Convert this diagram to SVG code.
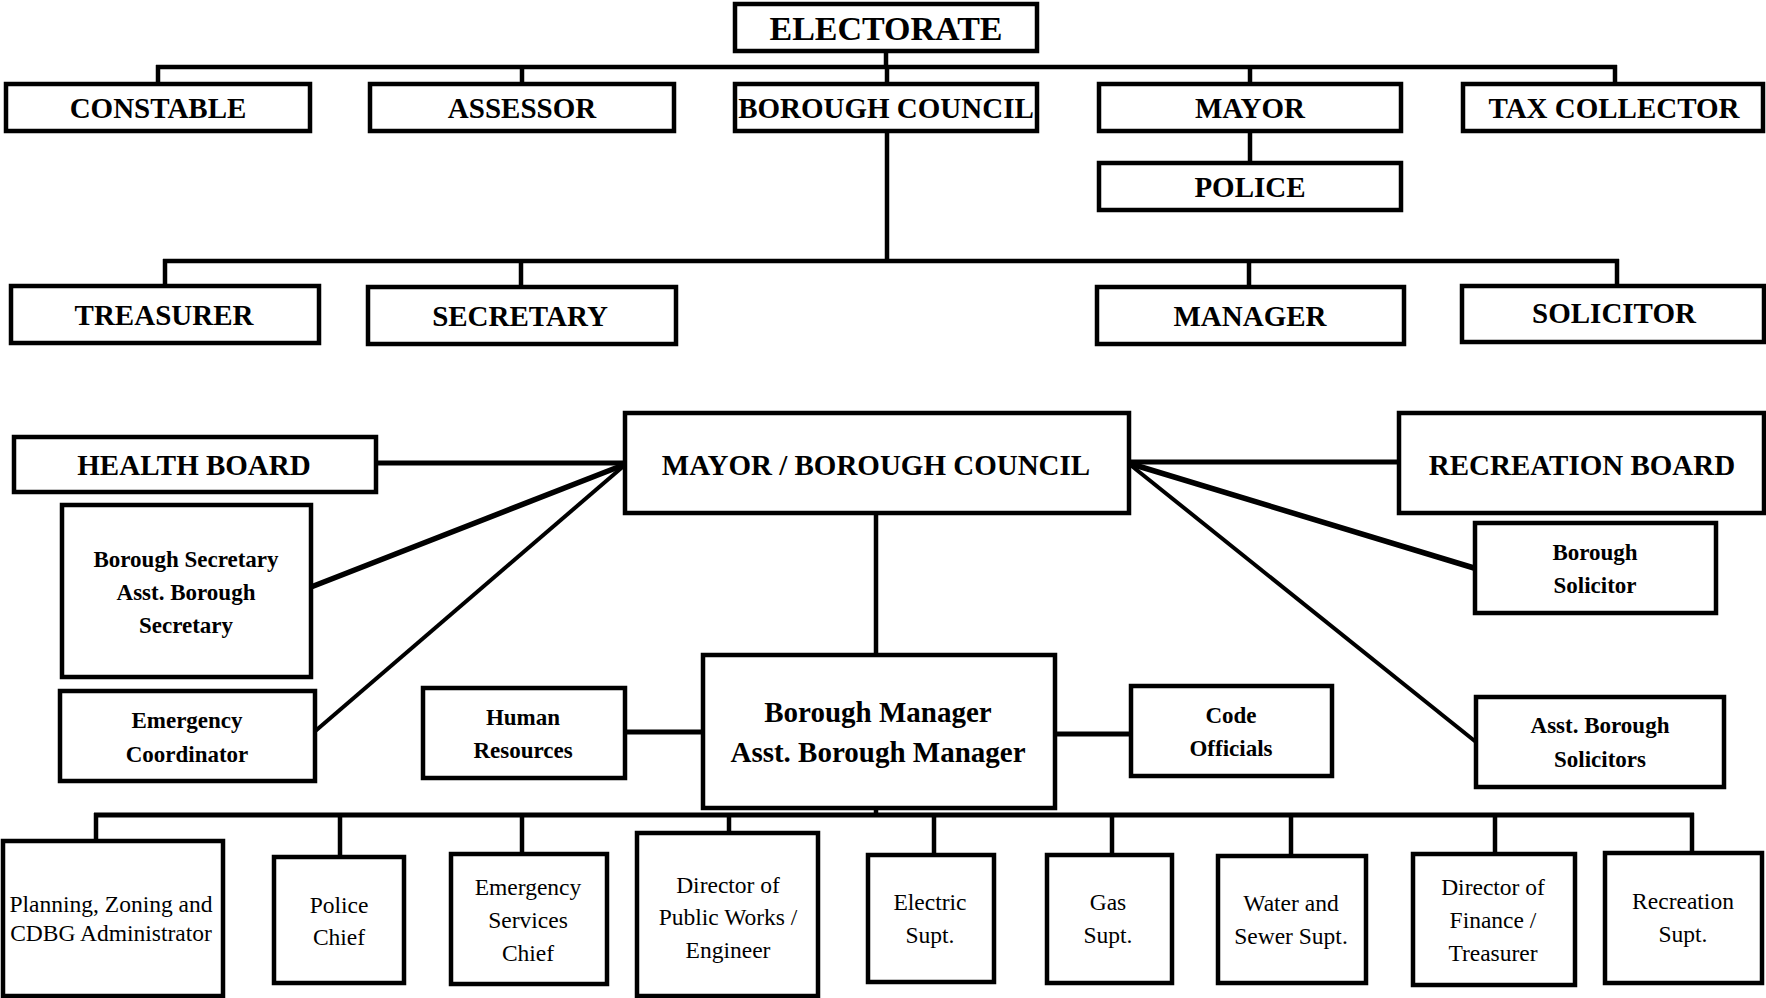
<svg xmlns="http://www.w3.org/2000/svg" width="1766" height="998" viewBox="0 0 1766 998">
<style>
rect{fill:#fff;stroke:#000;stroke-width:4.5}
.c line{stroke:#000;stroke-width:4.5;stroke-linecap:butt}
text{font-family:"Liberation Serif","Times New Roman",serif;text-anchor:middle;fill:#000}
.b{font-weight:bold;font-size:29px}
.s{font-weight:bold;font-size:23px}
.r{font-size:23.5px}
</style>
<rect x="0" y="0" width="1766" height="998" style="stroke:none"/>
<g class="c" id="connectors">
<line x1="886" y1="51" x2="886" y2="67"/>
<line x1="156" y1="67" x2="1617" y2="67"/>
<line x1="158" y1="65" x2="158" y2="83"/>
<line x1="522" y1="65" x2="522" y2="83"/>
<line x1="887" y1="65" x2="887" y2="83"/>
<line x1="1250" y1="65" x2="1250" y2="83"/>
<line x1="1615" y1="65" x2="1615" y2="83"/>
<line x1="1250" y1="131" x2="1250" y2="162"/>
<line x1="887" y1="131" x2="887" y2="263"/>
<line x1="163" y1="261" x2="1619" y2="261"/>
<line x1="165" y1="259" x2="165" y2="292"/>
<line x1="521" y1="259" x2="521" y2="290"/>
<line x1="1249" y1="259" x2="1249" y2="292"/>
<line x1="1617" y1="259" x2="1617" y2="291"/>
<line x1="376" y1="463" x2="626" y2="463" style="stroke-width:5"/>
<line x1="1128" y1="462" x2="1399" y2="462" style="stroke-width:5"/>
<line x1="626" y1="464" x2="311" y2="587" style="stroke-width:5.5"/>
<line x1="626" y1="464" x2="313" y2="733" style="stroke-width:4"/>
<line x1="1128" y1="463" x2="1474" y2="568" style="stroke-width:5.5"/>
<line x1="1128" y1="463" x2="1476" y2="742" style="stroke-width:4"/>
<line x1="876" y1="513" x2="876" y2="660"/>
<line x1="623" y1="732" x2="703" y2="732" style="stroke-width:5"/>
<line x1="1055" y1="734" x2="1131" y2="734" style="stroke-width:5"/>
<line x1="876" y1="800" x2="876" y2="815"/>
<line x1="94" y1="815" x2="1694" y2="815" style="stroke-width:5"/>
<line x1="96" y1="813" x2="96" y2="846"/>
<line x1="340" y1="813" x2="340" y2="861"/>
<line x1="522" y1="813" x2="522" y2="858"/>
<line x1="729" y1="813" x2="729" y2="837"/>
<line x1="934" y1="813" x2="934" y2="858"/>
<line x1="1112" y1="813" x2="1112" y2="858"/>
<line x1="1291" y1="813" x2="1291" y2="859"/>
<line x1="1495" y1="813" x2="1495" y2="858"/>
<line x1="1692" y1="813" x2="1692" y2="858"/>
</g>
<g id="electorate"><rect x="735" y="4" width="302" height="47"/><text class="b" x="886" y="40" style="font-size:34px">ELECTORATE</text></g>
<g id="constable"><rect x="6" y="84" width="304" height="47"/><text class="b" x="158" y="118">CONSTABLE</text></g>
<g id="assessor"><rect x="370" y="84" width="304" height="47"/><text class="b" x="522" y="118">ASSESSOR</text></g>
<g id="borough-council"><rect x="735" y="84" width="302" height="47"/><text class="b" x="886" y="118">BOROUGH COUNCIL</text></g>
<g id="mayor"><rect x="1099" y="84" width="302" height="47"/><text class="b" x="1250" y="118">MAYOR</text></g>
<g id="tax-collector"><rect x="1463" y="84" width="300" height="47"/><text class="b" x="1614" y="118">TAX COLLECTOR</text></g>
<g id="police"><rect x="1099" y="163" width="302" height="47"/><text class="b" x="1250" y="197">POLICE</text></g>
<g id="treasurer"><rect x="11" y="286" width="308" height="57"/><text class="b" x="164" y="325">TREASURER</text></g>
<g id="secretary"><rect x="368" y="287" width="308" height="57"/><text class="b" x="520" y="326">SECRETARY</text></g>
<g id="manager"><rect x="1097" y="287" width="307" height="57"/><text class="b" x="1250" y="326">MANAGER</text></g>
<g id="solicitor"><rect x="1462" y="286" width="302" height="56"/><text class="b" x="1614" y="323">SOLICITOR</text></g>
<g id="health-board"><rect x="14" y="437" width="362" height="55"/><text class="b" x="194" y="475">HEALTH BOARD</text></g>
<g id="mayor-borough-council"><rect x="625" y="413" width="504" height="100"/><text class="b" x="876" y="475">MAYOR / BOROUGH COUNCIL</text></g>
<g id="recreation-board"><rect x="1399" y="413" width="365" height="100"/><text class="b" x="1582" y="475">RECREATION BOARD</text></g>
<g id="borough-secretary"><rect x="62" y="505" width="249" height="172"/><text class="s" x="186" y="567">Borough Secretary</text><text class="s" x="186" y="600">Asst. Borough</text><text class="s" x="186" y="633">Secretary</text></g>
<g id="emergency-coordinator"><rect x="60" y="691" width="255" height="90"/><text class="s" x="187" y="728">Emergency</text><text class="s" x="187" y="762">Coordinator</text></g>
<g id="human-resources"><rect x="423" y="688" width="202" height="90"/><text class="s" x="523" y="725">Human</text><text class="s" x="523" y="758">Resources</text></g>
<g id="borough-manager"><rect x="703" y="655" width="352" height="153"/><text class="b" x="878" y="722">Borough Manager</text><text class="b" x="878" y="762">Asst. Borough Manager</text></g>
<g id="code-officials"><rect x="1131" y="686" width="201" height="90"/><text class="s" x="1231" y="723">Code</text><text class="s" x="1231" y="756">Officials</text></g>
<g id="borough-solicitor"><rect x="1475" y="523" width="241" height="90"/><text class="s" x="1595" y="560">Borough</text><text class="s" x="1595" y="593">Solicitor</text></g>
<g id="asst-borough-solicitors"><rect x="1476" y="697" width="248" height="90"/><text class="s" x="1600" y="733">Asst. Borough</text><text class="s" x="1600" y="767">Solicitors</text></g>
<g id="planning"><rect x="3" y="841" width="220" height="155"/><text class="r" x="111" y="912">Planning, Zoning and</text><text class="r" x="111" y="941">CDBG Administrator</text></g>
<g id="police-chief"><rect x="274" y="857" width="130" height="126"/><text class="r" x="339" y="913">Police</text><text class="r" x="339" y="945">Chief</text></g>
<g id="emergency-services-chief"><rect x="451" y="854" width="156" height="130"/><text class="r" x="528" y="895">Emergency</text><text class="r" x="528" y="928">Services</text><text class="r" x="528" y="961">Chief</text></g>
<g id="public-works"><rect x="637" y="833" width="181" height="163"/><text class="r" x="728" y="893">Director of</text><text class="r" x="728" y="925">Public Works /</text><text class="r" x="728" y="958">Engineer</text></g>
<g id="electric"><rect x="868" y="855" width="126" height="127"/><text class="r" x="930" y="910">Electric</text><text class="r" x="930" y="943">Supt.</text></g>
<g id="gas"><rect x="1047" y="855" width="125" height="128"/><text class="r" x="1108" y="910">Gas</text><text class="r" x="1108" y="943">Supt.</text></g>
<g id="water-sewer"><rect x="1218" y="856" width="148" height="127"/><text class="r" x="1291" y="911">Water and</text><text class="r" x="1291" y="944">Sewer Supt.</text></g>
<g id="finance"><rect x="1413" y="854" width="162" height="131"/><text class="r" x="1493" y="895">Director of</text><text class="r" x="1493" y="928">Finance /</text><text class="r" x="1493" y="961">Treasurer</text></g>
<g id="recreation-supt"><rect x="1605" y="853" width="157" height="130"/><text class="r" x="1683" y="909">Recreation</text><text class="r" x="1683" y="942">Supt.</text></g>
</svg>
